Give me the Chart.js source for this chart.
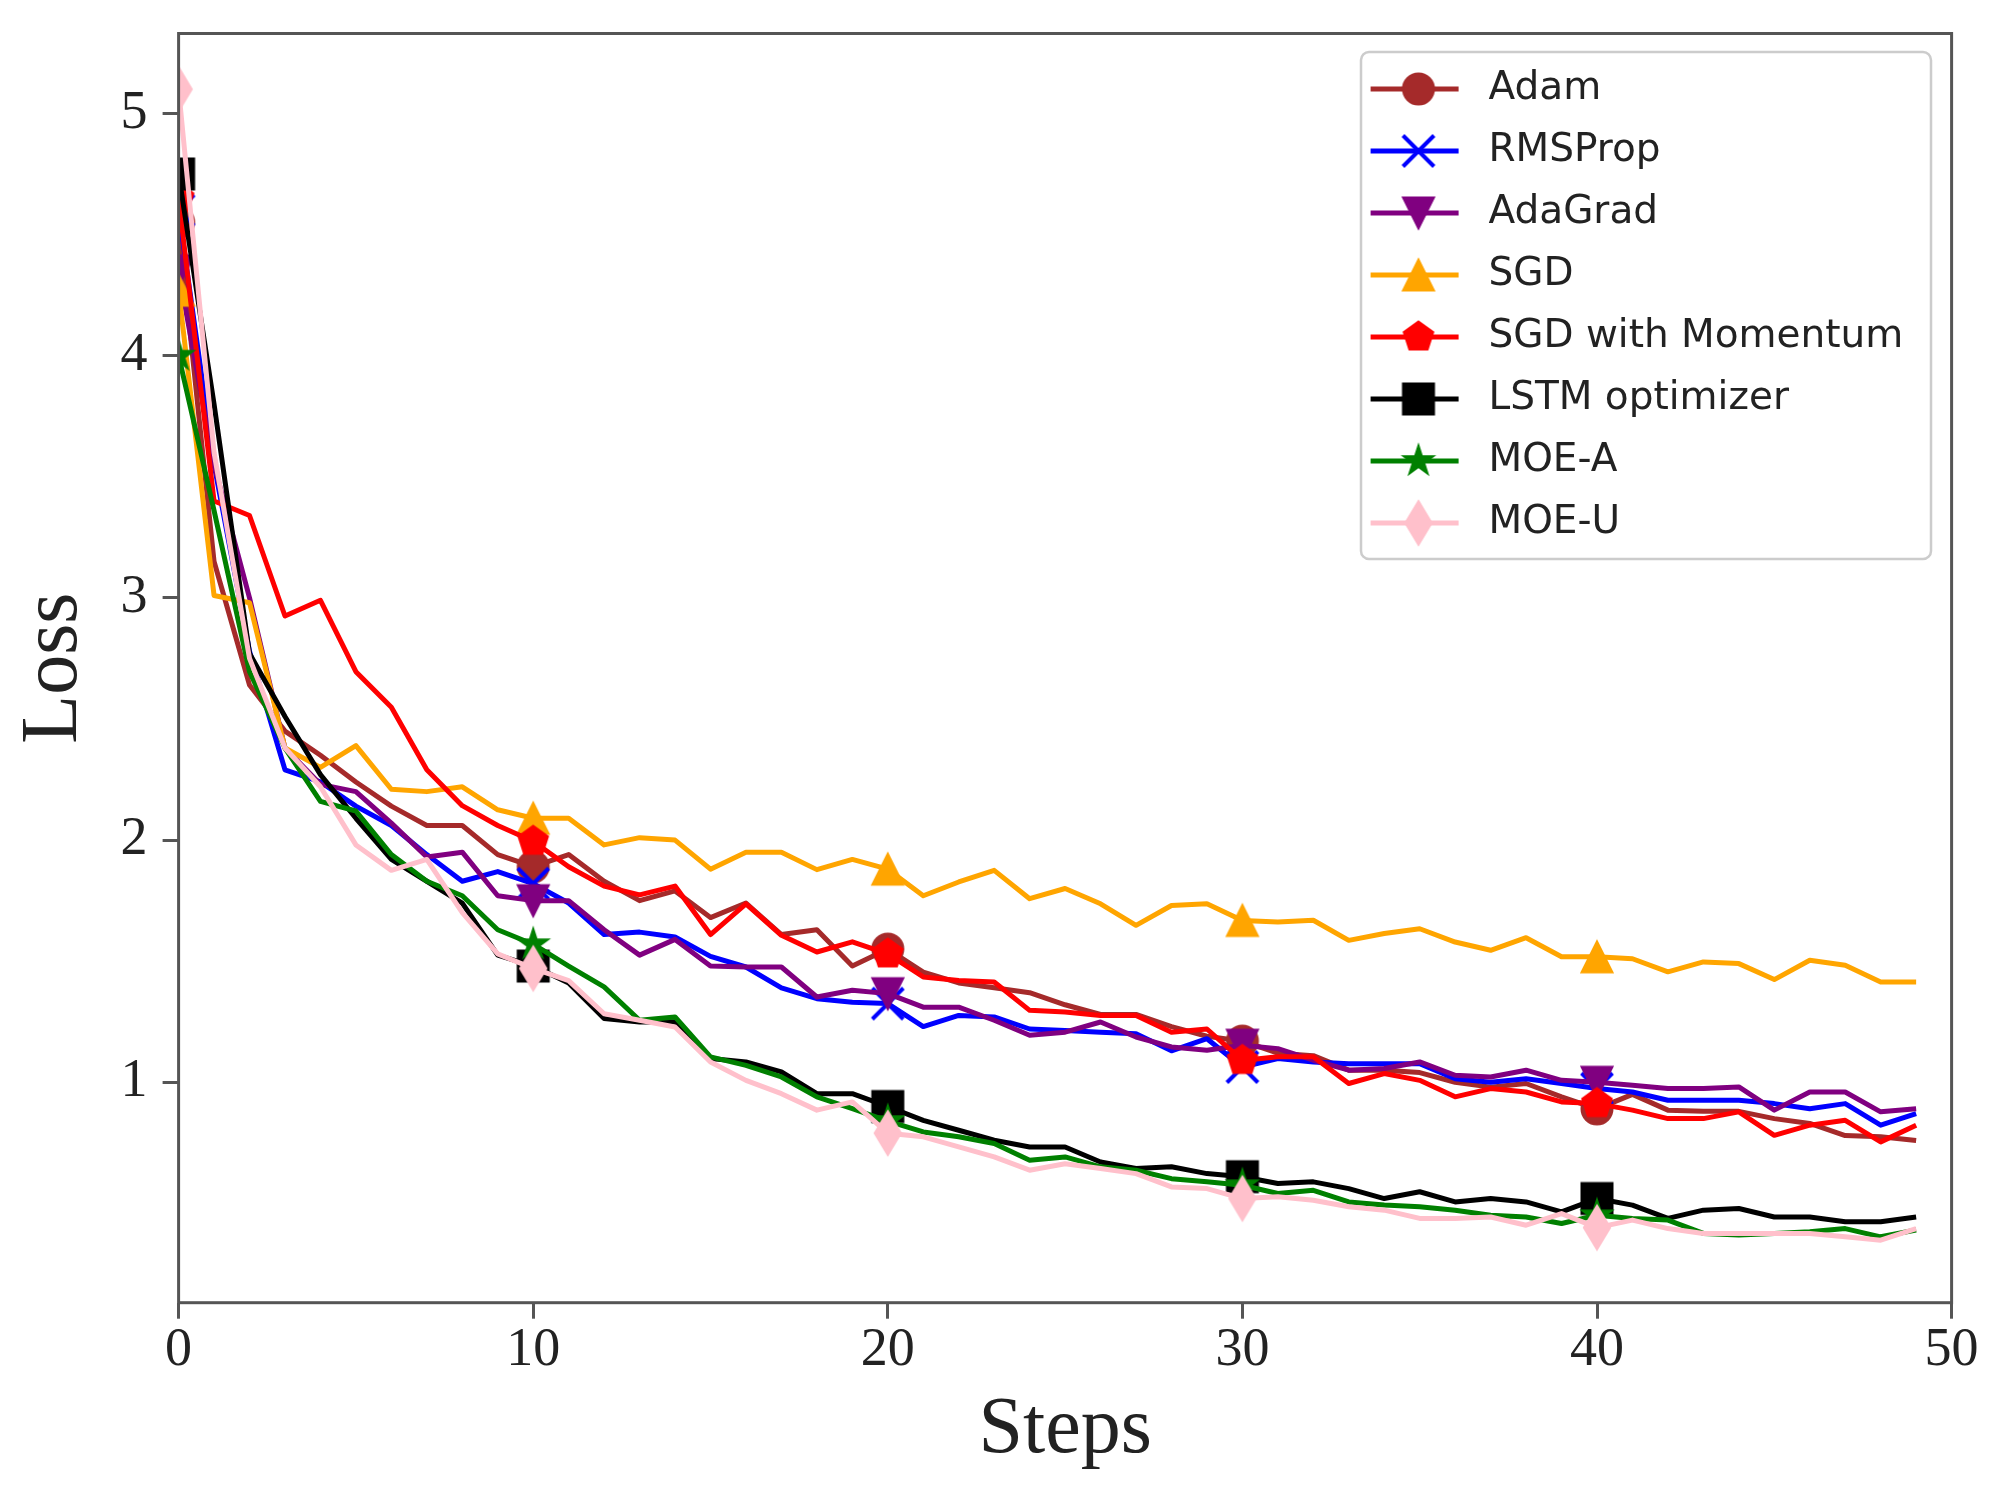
<!DOCTYPE html>
<html>
<head>
<meta charset="utf-8">
<title>Loss vs Steps</title>
<script src="https://cdn.jsdelivr.net/npm/chart.js@4.4.1/dist/chart.umd.min.js"></script>
<style>
    html, body { margin: 0; padding: 0; background: #ffffff; }
    canvas { display: block; }
</style>
</head>
<body>
<canvas id="lossChart" width="1995" height="1506"></canvas>
<script>
const steps = [0, 1, 2, 3, 4, 5, 6, 7, 8, 9, 10, 11, 12, 13, 14, 15, 16, 17, 18, 19,
    20, 21, 22, 23, 24, 25, 26, 27, 28, 29, 30, 31, 32, 33, 34, 35, 36, 37, 38, 39,
    40, 41, 42, 43, 44, 45, 46, 47, 48, 49];

const xTicks = [0, 10, 20, 30, 40, 50];
const yTicks = [1, 2, 3, 4, 5];

const adamLoss = [4.55, 3.15, 2.64, 2.45, 2.35, 2.24, 2.14, 2.06, 2.06, 1.94,
    1.89, 1.94, 1.83, 1.75, 1.79, 1.68, 1.74, 1.61, 1.63, 1.48,
    1.55, 1.455, 1.41, 1.39, 1.37, 1.32, 1.28, 1.28, 1.23, 1.19,
    1.17, 1.12, 1.11, 1.05, 1.05, 1.04, 1.0, 0.98, 0.995, 0.94,
    0.89, 0.95, 0.885, 0.88, 0.88, 0.85, 0.83, 0.78, 0.775, 0.76];

const rmspropLoss = [4.6, 3.55, 2.78, 2.29, 2.24, 2.14, 2.06, 1.94, 1.83, 1.87,
    1.82, 1.74, 1.61, 1.62, 1.6, 1.52, 1.476, 1.39, 1.345, 1.33,
    1.325, 1.23, 1.276, 1.27, 1.22, 1.214, 1.207, 1.2, 1.13, 1.18,
    1.063, 1.098, 1.084, 1.077, 1.077, 1.077, 1.015, 1.0, 1.015, 0.995,
    0.974, 0.96, 0.926, 0.926, 0.926, 0.912, 0.891, 0.912, 0.823, 0.871];

const adagradLoss = [4.35, 3.55, 3.0, 2.38, 2.23, 2.2, 2.07, 1.93, 1.95, 1.77,
    1.75, 1.75, 1.63, 1.525, 1.59, 1.48, 1.476, 1.476, 1.352, 1.38,
    1.366, 1.31, 1.31, 1.256, 1.194, 1.207, 1.249, 1.187, 1.146, 1.132,
    1.153, 1.139, 1.091, 1.05, 1.057, 1.084, 1.029, 1.022, 1.05, 1.008,
    1.0, 0.988, 0.974, 0.974, 0.981, 0.885, 0.96, 0.96, 0.878, 0.891];

const sgdLoss = [4.27, 3.01, 2.98, 2.38, 2.3, 2.39, 2.21, 2.2, 2.22, 2.125,
    2.09, 2.09, 1.98, 2.01, 2.0, 1.88, 1.95, 1.95, 1.878, 1.92,
    1.88, 1.77, 1.827, 1.875, 1.758, 1.8, 1.737, 1.648, 1.73, 1.737,
    1.668, 1.662, 1.669, 1.586, 1.614, 1.634, 1.579, 1.545, 1.597, 1.518,
    1.518, 1.51, 1.456, 1.497, 1.49, 1.424, 1.504, 1.483, 1.414, 1.414];

const momentumLoss = [4.65, 3.4, 3.34, 2.925, 2.99, 2.695, 2.548, 2.29, 2.142, 2.06,
    1.995, 1.89, 1.81, 1.774, 1.81, 1.61, 1.737, 1.607, 1.538, 1.58,
    1.53, 1.435, 1.42, 1.414, 1.297, 1.29, 1.276, 1.276, 1.207, 1.22,
    1.09, 1.105, 1.105, 0.995, 1.036, 1.008, 0.94, 0.974, 0.96, 0.919,
    0.912, 0.885, 0.85, 0.85, 0.878, 0.781, 0.823, 0.843, 0.754, 0.823];

const lstmLoss = [4.75, 3.8, 2.77, 2.51, 2.27, 2.09, 1.92, 1.83, 1.74, 1.525,
    1.48, 1.41, 1.263, 1.249, 1.25, 1.098, 1.084, 1.043, 0.953, 0.953,
    0.9, 0.843, 0.802, 0.761, 0.733, 0.733, 0.671, 0.644, 0.651, 0.623,
    0.61, 0.582, 0.589, 0.561, 0.52, 0.548, 0.506, 0.52, 0.506, 0.465,
    0.52, 0.493, 0.438, 0.472, 0.479, 0.444, 0.444, 0.424, 0.424, 0.444];

const moeALoss = [4.0, 3.36, 2.695, 2.38, 2.16, 2.12, 1.94, 1.83, 1.77, 1.63,
    1.57, 1.48, 1.394, 1.256, 1.27, 1.105, 1.07, 1.022, 0.94, 0.891,
    0.84, 0.795, 0.775, 0.747, 0.678, 0.692, 0.651, 0.637, 0.602, 0.589,
    0.575, 0.541, 0.554, 0.506, 0.493, 0.486, 0.472, 0.451, 0.444, 0.417,
    0.451, 0.438, 0.431, 0.376, 0.369, 0.376, 0.383, 0.396, 0.362, 0.39];

const moeULoss = [5.1, 3.6, 2.75, 2.38, 2.22, 1.98, 1.875, 1.92, 1.7, 1.53,
    1.47, 1.42, 1.283, 1.256, 1.228, 1.084, 1.008, 0.953, 0.885, 0.919,
    0.79, 0.775, 0.733, 0.692, 0.637, 0.664, 0.644, 0.623, 0.568, 0.561,
    0.52, 0.527, 0.513, 0.486, 0.472, 0.438, 0.438, 0.444, 0.41, 0.458,
    0.4, 0.431, 0.396, 0.376, 0.376, 0.376, 0.376, 0.362, 0.348, 0.396];

const seriesNames = ['Adam', 'RMSProp', 'AdaGrad', 'SGD', 'SGD with Momentum',
    'LSTM optimizer', 'MOE-A', 'MOE-U'];
const seriesValues = [adamLoss, rmspropLoss, adagradLoss, sgdLoss, momentumLoss,
    lstmLoss, moeALoss, moeULoss];
const seriesColors = ['#a52a2a', '#0000ff', '#800080', '#ffa500', '#ff0000',
    '#000000', '#008000', '#ffc0cb'];
const seriesMarkers = ['circle', 'x', 'triangleDown', 'triangleUp', 'pentagon',
    'square', 'star', 'thinDiamond'];

// matplotlib-like marker glyphs, used as point images
function makeMarker(shape, color, size) {
    const dim = Math.ceil(size * 1.6 / 2) * 2 + 8;
    const c = document.createElement('canvas');
    c.width = dim;
    c.height = dim;
    const g = c.getContext('2d');
    const r = size / 2;
    g.translate(dim / 2, dim / 2);
    g.fillStyle = color;
    g.strokeStyle = color;
    g.lineWidth = 2;
    g.lineJoin = 'miter';
    g.beginPath();

    if (shape === 'x') {
        g.lineWidth = 4;
        g.lineCap = 'butt';
        g.moveTo(-r, -r); g.lineTo(r, r);
        g.moveTo(-r, r); g.lineTo(r, -r);
        g.stroke();
        return c;
    }

    if (shape === 'circle') {
        g.arc(0, 0, r, 0, Math.PI * 2);
    } else if (shape === 'triangleDown') {
        g.moveTo(0, r); g.lineTo(-r, -r); g.lineTo(r, -r);
    } else if (shape === 'triangleUp') {
        g.moveTo(0, -r); g.lineTo(-r, r); g.lineTo(r, r);
    } else if (shape === 'pentagon') {
        for (let k = 0; k < 5; k++) {
            const a = -Math.PI / 2 + k * 2 * Math.PI / 5;
            g.lineTo(r * Math.cos(a), r * Math.sin(a));
        }
    } else if (shape === 'square') {
        g.rect(-r, -r, size, size);
    } else if (shape === 'star') {
        for (let k = 0; k < 10; k++) {
            const a = -Math.PI / 2 + k * Math.PI / 5;
            const rr = k % 2 === 0 ? r : r * 0.381966;
            g.lineTo(rr * Math.cos(a), rr * Math.sin(a));
        }
    } else if (shape === 'thinDiamond') {
        const h = r * Math.SQRT2;
        const w = h * 0.6;
        g.moveTo(0, -h); g.lineTo(w, 0); g.lineTo(0, h); g.lineTo(-w, 0);
    }
    g.closePath();
    g.fill();
    g.stroke();
    return c;
}

const markerImages = seriesMarkers.map((m, i) => makeMarker(m, seriesColors[i], 31));

// frame around the axes (all four spines)
const framePlugin = {
    id: 'frame',
    afterDatasetsDraw(chart) {
        const { ctx, chartArea: a } = chart;
        ctx.save();
        ctx.strokeStyle = '#555555';
        ctx.lineWidth = 3;
        ctx.strokeRect(a.left, a.top, a.right - a.left, a.bottom - a.top);
        ctx.restore();
    }
};

// legend drawn inside the axes, upper right
const innerLegend = {
    id: 'innerLegend',
    afterDraw(chart) {
        const { ctx, chartArea: a } = chart;
        const boxRight = a.right - 20.6;
        const boxLeft = boxRight - 570;
        const boxTop = a.top + 18.5;
        const boxBottom = boxTop + 507;
        ctx.save();
        ctx.beginPath();
        ctx.roundRect(boxLeft, boxTop, boxRight - boxLeft, boxBottom - boxTop, 8);
        ctx.fillStyle = 'rgba(255,255,255,0.85)';
        ctx.fill();
        ctx.strokeStyle = '#cccccc';
        ctx.lineWidth = 2.5;
        ctx.stroke();

        chart.data.datasets.forEach((ds, i) => {
            const y = boxTop + 37 + i * 62;
            ctx.beginPath();
            ctx.moveTo(boxLeft + 9.6, y);
            ctx.lineTo(boxLeft + 97.6, y);
            ctx.strokeStyle = ds.borderColor;
            ctx.lineWidth = 5;
            ctx.stroke();
            const img = markerImages[i];
            ctx.drawImage(img, boxLeft + 57.5 - img.width / 2, y - img.height / 2);
            ctx.fillStyle = '#222222';
            ctx.font = '39px "DejaVu Sans"';
            ctx.textAlign = 'left';
            ctx.textBaseline = 'middle';
            ctx.fillText(ds.label, boxLeft + 127.5, y);
        });
        ctx.restore();
    }
};

const tickFont = { family: '"Liberation Serif", "Times New Roman", serif', size: 54 };
const titleFont = { family: '"Liberation Serif", "Times New Roman", serif', size: 80 };

const ctx = document.getElementById('lossChart').getContext('2d');
const chart = new Chart(ctx, {
    type: 'line',
    data: {
        datasets: seriesNames.map((name, i) => ({
            label: name,
            data: steps.map((s, j) => ({ x: s, y: seriesValues[i][j] })),
            borderColor: seriesColors[i],
            backgroundColor: seriesColors[i],
            borderWidth: 5,
            borderJoinStyle: 'round',
            tension: 0,
            fill: false,
            pointStyle: markerImages[i],
            pointRadius: c => (c.dataIndex % 10 === 0 ? 16 : 0),
            pointHoverRadius: 0,
            clip: 0,
            order: seriesNames.length - i
        }))
    },
    options: {
        responsive: false,
        animation: false,
        devicePixelRatio: 1,
        events: [],
        layout: { padding: { left: 0, top: 33.5, right: 43.4, bottom: 0 } },
        plugins: {
            legend: { display: false },
            tooltip: { enabled: false }
        },
        scales: {
            x: {
                type: 'linear',
                min: 0,
                max: 50,
                afterBuildTicks: scale => { scale.ticks = xTicks.map(v => ({ value: v })); },
                afterFit: scale => {
                    scale.height = 203.3;
                    scale.paddingLeft = 0;
                    scale.paddingRight = 0;
                },
                ticks: { padding: 0, color: '#222222', font: tickFont, maxRotation: 0 },
                grid: {
                    display: true, drawOnChartArea: false, drawTicks: true,
                    tickLength: 16, tickWidth: 3, tickColor: '#555555'
                },
                border: { display: false },
                title: {
                    display: true, text: 'Steps', color: '#222222', font: titleFont,
                    padding: { top: 0, bottom: 27 }
                }
            },
            y: {
                type: 'linear',
                min: 0.09,
                max: 5.33,
                afterBuildTicks: scale => { scale.ticks = yTicks.map(v => ({ value: v })); },
                afterFit: scale => {
                    scale.width = 178.6;
                    scale.paddingTop = 0;
                    scale.paddingBottom = 0;
                },
                ticks: { padding: 15, color: '#222222', font: tickFont },
                grid: {
                    display: true, drawOnChartArea: false, drawTicks: true,
                    tickLength: 16, tickWidth: 3, tickColor: '#555555'
                },
                border: { display: false },
                title: {
                    display: true, text: 'Loss', color: '#222222', font: titleFont,
                    padding: { top: 7, bottom: 0 }
                }
            }
        }
    },
    plugins: [framePlugin, innerLegend]
});
</script>
</body>
</html>
